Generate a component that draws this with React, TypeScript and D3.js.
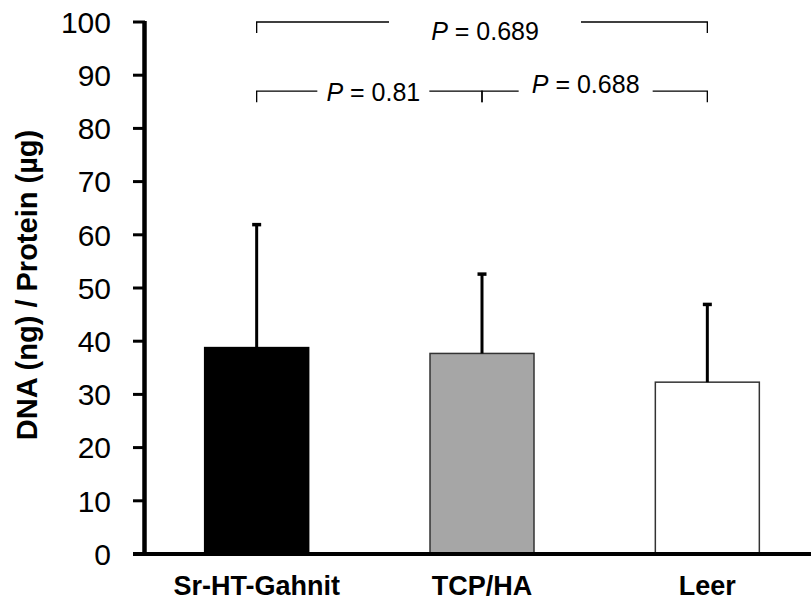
import React from 'react';
import * as d3 from 'd3';

// chart data
const groups = ['Sr-HT-Gahnit', 'TCP/HA', 'Leer'];
const means = [38.8, 37.7, 32.3];
const sds = [23.3, 15.1, 14.8];
const fills = ['#000000', '#a6a6a6', '#ffffff'];
const yTicks = [0, 10, 20, 30, 40, 50, 60, 70, 80, 90, 100];

// significance brackets: [from group, to group, height, p label]
const brackets: [number, number, number, string][] = [
  [0, 2, 100, '0.689'],
  [0, 1, 87, '0.81'],
  [1, 2, 87, '0.688'],
];
// label placement per bracket (text x offset from middle, y offset, half gap)
const bracketText = [
  { dx: 3, dy: 18, gap: 96 },
  { dx: 4, dy: 10, gap: 56 },
  { dx: -9, dy: 2, gap: 67 },
];

const W = 811;
const H = 600;
const font = 'Arial, "Liberation Sans", sans-serif';

export default function App() {
  const x = d3.scalePoint<string>().domain(groups).range([144, 820]).padding(0.5);
  const y = d3.scaleLinear().domain([0, 100]).range([554, 22]);
  const barW = 104;
  const drop = 11;

  return (
    <svg width={W} height={H} style={{ position: 'absolute', left: 0, top: 0, background: '#fff' }}>
      {/* bars */}
      {groups.map((g, i) => (
        <rect
          key={g}
          x={x(g)! - barW / 2}
          y={y(means[i])}
          width={barW}
          height={y(0) - y(means[i])}
          fill={fills[i]}
          stroke={i === 0 ? '#000' : '#333'}
          strokeWidth={1.5}
        />
      ))}
      {/* error bars (upper only) */}
      {groups.map((g, i) => (
        <g key={'e' + g} stroke="#000">
          <line x1={x(g)} x2={x(g)} y1={y(means[i])} y2={y(means[i] + sds[i])} strokeWidth={3} />
          <line x1={x(g)! - 4.5} x2={x(g)! + 4.5} y1={y(means[i] + sds[i]) + 1} y2={y(means[i] + sds[i]) + 1} strokeWidth={3.5} />
        </g>
      ))}
      {/* y axis */}
      <line x1={144.5} x2={144.5} y1={y(100) - 1} y2={y(0) + 2} stroke="#000" strokeWidth={4.5} />
      {yTicks.map((t) => (
        <g key={t}>
          <line x1={133} x2={145} y1={y(t)} y2={y(t)} stroke="#000" strokeWidth={3} />
          <text x={111} y={y(t)} dy="0.36em" textAnchor="end" fontFamily={font} fontSize={30} fill="#000">
            {t}
          </text>
        </g>
      ))}
      {/* x axis */}
      <line x1={133} x2={W} y1={y(0)} y2={y(0)} stroke="#000" strokeWidth={4} />
      {groups.map((g) => (
        <text key={'l' + g} x={x(g)} y={595} textAnchor="middle" fontFamily={font} fontSize={27} fontWeight="bold" fill="#000">
          {g}
        </text>
      ))}
      {/* y label */}
      <text
        transform={`translate(37,285) rotate(-90)`}
        textAnchor="middle"
        fontFamily={font}
        fontSize={29}
        fontWeight="bold"
        fill="#000"
      >
        DNA (ng) / Protein (µg)
      </text>
      {/* brackets */}
      {brackets.map(([a, b, h, p], i) => {
        const x1 = x(groups[a])!;
        const x2 = x(groups[b])!;
        const yy = y(h);
        const mid = (x1 + x2) / 2 + bracketText[i].dx;
        const gap = bracketText[i].gap;
        return (
          <g key={'b' + i} stroke="#000" strokeWidth={1.3} fill="none">
            <path d={`M${x1},${yy + drop}V${yy}H${mid - gap}`} />
            <path d={`M${mid + gap},${yy}H${x2}V${yy + drop}`} />
            <text
              x={mid}
              y={yy + bracketText[i].dy}
              textAnchor="middle"
              fontFamily={font}
              fontSize={25}
              fill="#000"
              stroke="none"
            >
              <tspan fontStyle="italic">P</tspan> = {p}
            </text>
          </g>
        );
      })}
    </svg>
  );
}
